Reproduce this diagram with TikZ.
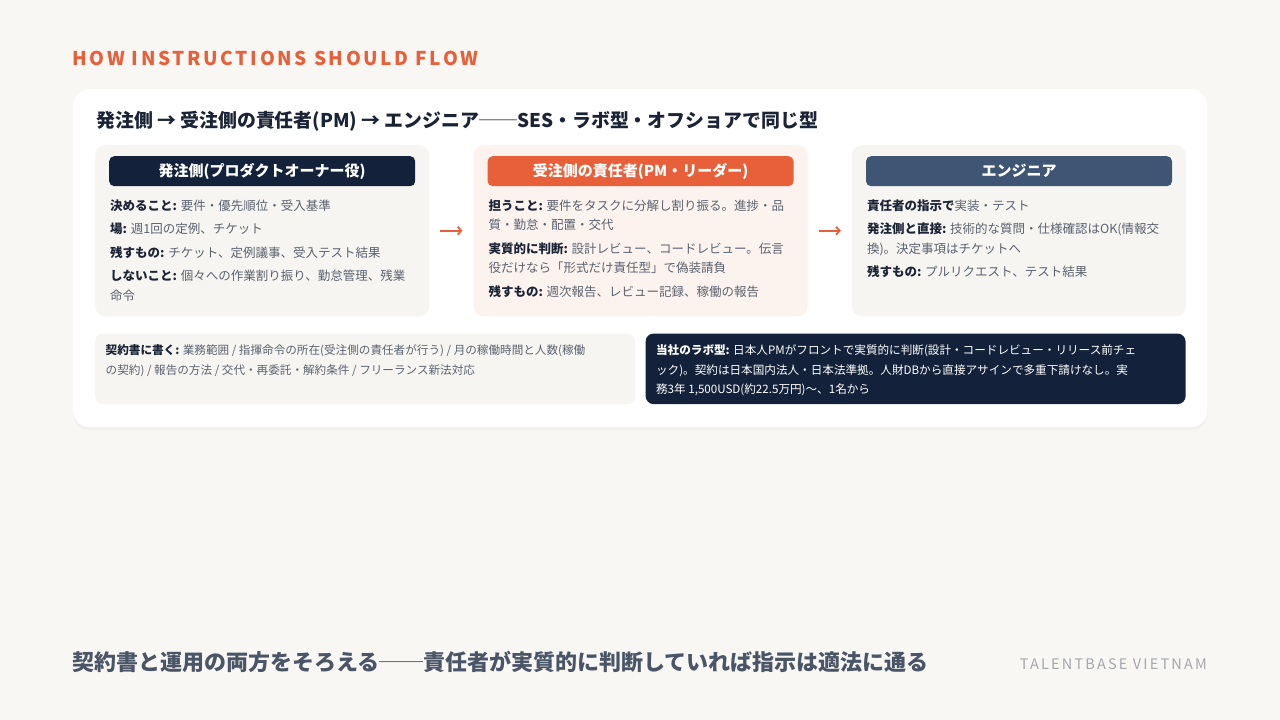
\documentclass[tikz,border=0pt]{standalone}
\usepackage{fontspec}
\setmainfont{Noto Sans CJK JP}
\newfontfamily\kickerfont{Noto Sans CJK JP}[LetterSpace=14]
\newfontfamily\brandfont{Noto Sans CJK JP}[LetterSpace=15]
\usetikzlibrary{arrows.meta,positioning,shadows}

\definecolor{pagebg}{HTML}{F9F7F4}
\definecolor{boxgray}{HTML}{F7F5F1}
\definecolor{boxpink}{HTML}{FDF3EE}
\definecolor{navy}{HTML}{13223A}
\definecolor{accent}{HTML}{E8603A}
\definecolor{slate}{HTML}{3E5573}
\definecolor{textdark}{HTML}{1B2436}
\definecolor{textgray}{HTML}{5A6270}
\definecolor{footgray}{HTML}{4A5567}
\definecolor{brandgray}{HTML}{A3A7AE}

\newcommand{\keyterm}[1]{{\bfseries\color{textdark}#1}}
\newcommand{\keylight}[1]{{\bfseries#1}}

\begin{document}
\begin{tikzpicture}[x=1pt, y=-1pt,
    colbox/.style={rectangle, rounded corners=10pt, anchor=north west, minimum width=334pt, minimum height=171pt, inner sep=0pt},
    headpill/.style={rectangle, rounded corners=5pt, anchor=north, minimum width=306pt, minimum height=30pt, inner sep=0pt, text=white, font=\fontsize{15}{16}\selectfont\bfseries},
    body/.style={anchor=north west, align=left, inner sep=0pt, text=textgray, font=\fontsize{12.5}{19.5}\selectfont},
    notebox/.style={rectangle, rounded corners=8pt, anchor=north west, minimum width=540pt, minimum height=70.5pt, inner sep=0pt},
    note/.style={anchor=north west, align=left, inner sep=0pt, font=\fontsize{11.6}{19.5}\selectfont},
    flowarrow/.style={-{Straight Barb[length=3.5pt,width=8pt]}, accent, line width=1.8pt, shorten >=11pt, shorten <=11pt}]

    \useasboundingbox (0,0) rectangle (1280,720);
    \fill[pagebg] (0,0) rectangle (1280,720);

    \node[anchor=base west, inner sep=0pt, text=accent, font=\kickerfont\fontsize{19}{21}\selectfont\bfseries] (kicker) at (72,65) {HOW INSTRUCTIONS SHOULD FLOW};

    % main card
    \node[rectangle, rounded corners=16pt, anchor=north west, minimum width=1134pt, minimum height=338pt, fill=white,
          drop shadow={opacity=0.05, shadow xshift=0pt, shadow yshift=-3pt}] (card) at (73,89) {};
    \node[anchor=base west, inner sep=0pt, text=textdark, font=\fontsize{18.9}{20}\selectfont\bfseries] (title) at (96,127)
        {発注側 → 受注側の責任者(PM) → エンジニア──SES・ラボ型・オフショアで同じ型};

    % three roles
    \node[colbox, fill=boxgray] (owner) at (95,145) {};
    \node[colbox, fill=boxpink, right=44pt of owner] (vendor) {};
    \node[colbox, fill=boxgray, right=44pt of vendor] (engineer) {};

    \node[headpill, fill=navy] (ownerhead) at ([yshift=-11pt]owner.north) {発注側(プロダクトオーナー役)};
    \node[headpill, fill=accent] (vendorhead) at ([yshift=-11pt]vendor.north) {受注側の責任者(PM・リーダー)};
    \node[headpill, fill=slate] (engineerhead) at ([yshift=-11pt]engineer.north) {エンジニア};

    \node[body] (ownerbody) at ([xshift=1pt, yshift=-13pt]ownerhead.south west)
        {\keyterm{決めること:} 要件・優先順位・受入基準\\[4pt]
         \keyterm{場:} 週1回の定例、チケット\\[4pt]
         \keyterm{残すもの:} チケット、定例議事、受入テスト結果\\[4pt]
         \keyterm{しないこと:} 個々への作業割り振り、勤怠管理、残業\\命令};
    \node[body] (vendorbody) at ([xshift=1pt, yshift=-13pt]vendorhead.south west)
        {\keyterm{担うこと:} 要件をタスクに分解し割り振る。進捗・品\\質・勤怠・配置・交代\\[4pt]
         \keyterm{実質的に判断:} 設計レビュー、コードレビュー。伝言\\役だけなら「形式だけ責任型」で偽装請負\\[4pt]
         \keyterm{残すもの:} 週次報告、レビュー記録、稼働の報告};
    \node[body] (engineerbody) at ([xshift=1pt, yshift=-13pt]engineerhead.south west)
        {\keyterm{責任者の指示で}実装・テスト\\[4pt]
         \keyterm{発注側と直接:} 技術的な質問・仕様確認はOK(情報交\\換)。決定事項はチケットへ\\[4pt]
         \keyterm{残すもの:} プルリクエスト、テスト結果};

    \draw[flowarrow] (owner) -- (vendor);
    \draw[flowarrow] (vendor) -- (engineer);

    % contract and lab notes
    \node[notebox, fill=boxgray] (contract) at ([yshift=-17pt]owner.south west) {};
    \node[notebox, fill=navy, right=10pt of contract] (lab) {};
    \node[note, text=textgray] (contracttext) at ([xshift=10.5pt, yshift=-11pt]contract.north west)
        {\keyterm{契約書に書く:} 業務範囲 / 指揮命令の所在(受注側の責任者が行う) / 月の稼働時間と人数(稼働\\
         の契約) / 報告の方法 / 交代・再委託・解約条件 / フリーランス新法対応};
    \node[note, text=white] (labtext) at ([xshift=10.5pt, yshift=-11pt]lab.north west)
        {\keylight{当社のラボ型:} 日本人PMがフロントで実質的に判断(設計・コードレビュー・リリース前チェ\\
         ック)。契約は日本国内法人・日本法準拠。人財DBから直接アサインで多重下請けなし。実\\
         務3年 1,500USD(約22.5万円)〜、1名から};

    % footer
    \node[anchor=base west, inner sep=0pt, text=footgray, font=\fontsize{22}{24}\selectfont\bfseries] (takeaway) at (72,670)
        {契約書と運用の両方をそろえる──責任者が実質的に判断していれば指示は適法に通る};
    \node[anchor=base east, inner sep=0pt, text=brandgray, font=\brandfont\fontsize{14.5}{16}\selectfont] (brand) at (1207,669)
        {TALENTBASE VIETNAM};
\end{tikzpicture}
\end{document}
